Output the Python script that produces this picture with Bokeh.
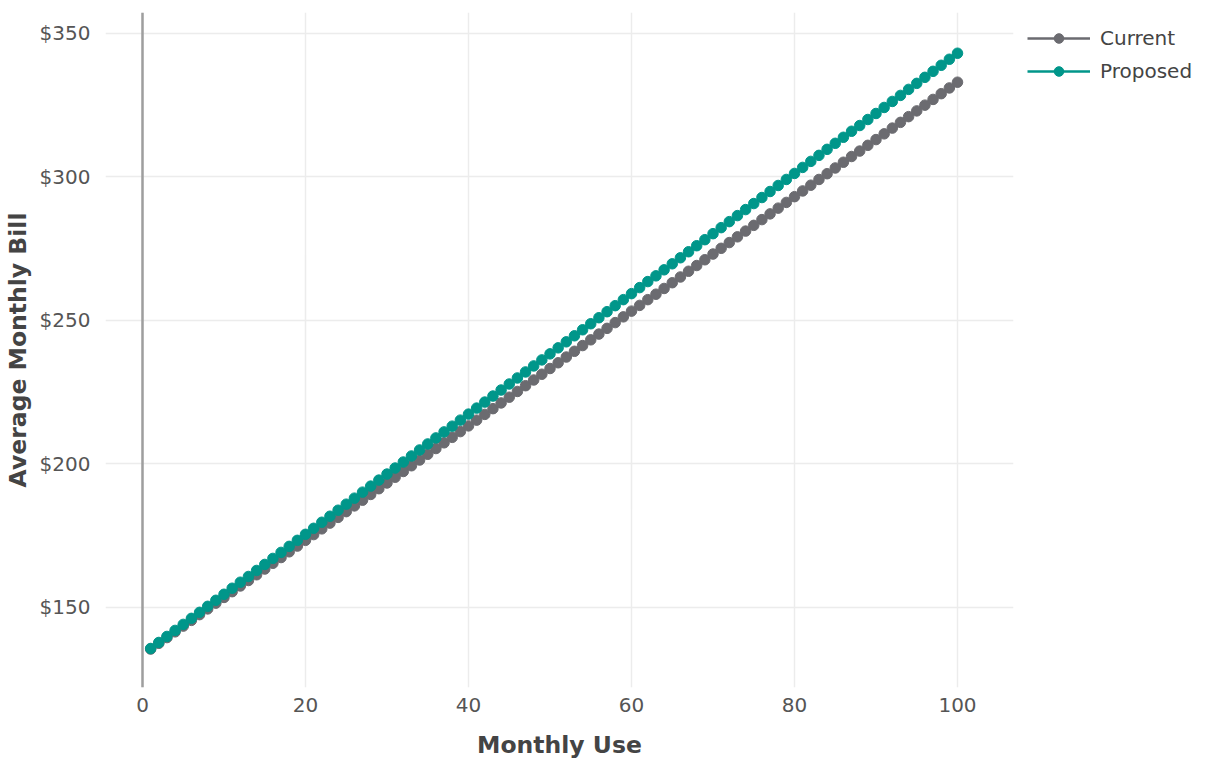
from bokeh.plotting import figure
from bokeh.models import (ColumnDataSource, Range1d, FixedTicker, PrintfTickFormatter,
                          Span, Legend, LegendItem)
from bokeh.embed import file_html
from bokeh.resources import INLINE

# ---- data ----
monthly_use = list(range(1, 101))

current = [
    135.4, 137.4, 139.4, 141.4, 143.4, 145.4, 147.4, 149.4, 151.4, 153.4,
    155.4, 157.4, 159.3, 161.3, 163.3, 165.3, 167.3, 169.3, 171.3, 173.3,
    175.3, 177.3, 179.3, 181.3, 183.3, 185.3, 187.3, 189.3, 191.3, 193.3,
    195.3, 197.3, 199.3, 201.3, 203.3, 205.3, 207.3, 209.2, 211.2, 213.2,
    215.2, 217.2, 219.2, 221.2, 223.2, 225.2, 227.2, 229.2, 231.2, 233.2,
    235.2, 237.2, 239.2, 241.2, 243.2, 245.2, 247.2, 249.2, 251.2, 253.2,
    255.2, 257.2, 259.1, 261.1, 263.1, 265.1, 267.1, 269.1, 271.1, 273.1,
    275.1, 277.1, 279.1, 281.1, 283.1, 285.1, 287.1, 289.1, 291.1, 293.1,
    295.1, 297.1, 299.1, 301.1, 303.1, 305.1, 307.1, 309.0, 311.0, 313.0,
    315.0, 317.0, 319.0, 321.0, 323.0, 325.0, 327.0, 329.0, 331.0, 333.0,
]

proposed = [
    135.6, 137.7, 139.8, 141.9, 144.0, 146.1, 148.2, 150.3, 152.4, 154.5,
    156.6, 158.7, 160.7, 162.8, 164.9, 167.0, 169.1, 171.2, 173.3, 175.4,
    177.5, 179.6, 181.7, 183.8, 185.9, 188.0, 190.1, 192.2, 194.3, 196.4,
    198.5, 200.6, 202.7, 204.8, 206.9, 209.0, 211.1, 213.1, 215.2, 217.3,
    219.4, 221.5, 223.6, 225.7, 227.8, 229.9, 232.0, 234.1, 236.2, 238.3,
    240.4, 242.5, 244.6, 246.7, 248.8, 250.9, 253.0, 255.1, 257.2, 259.3,
    261.4, 263.5, 265.5, 267.6, 269.7, 271.8, 273.9, 276.0, 278.1, 280.2,
    282.3, 284.4, 286.5, 288.6, 290.7, 292.8, 294.9, 297.0, 299.1, 301.2,
    303.3, 305.4, 307.5, 309.6, 311.7, 313.8, 315.9, 317.9, 320.0, 322.1,
    324.2, 326.3, 328.4, 330.5, 332.6, 334.7, 336.8, 338.9, 341.0, 343.1,
]

x_ticks = [0, 20, 40, 60, 80, 100]
y_ticks = [150, 200, 250, 300, 350]
series_names = ["Current", "Proposed"]
x_title = "Monthly Use"
y_title = "Average Monthly Bill"

GRAY = "#6b6b70"
TEAL = "#00968a"
FONT = "DejaVu Sans"

src = ColumnDataSource(dict(x=monthly_use, current=current, proposed=proposed))

p = figure(frame_width=908, frame_height=675, output_backend="svg", toolbar_location=None,
           x_range=Range1d(-4.54, 106.87), y_range=Range1d(122.0, 357.3),
           min_border_left=105, min_border_right=194, min_border_top=12,
           min_border_bottom=74)
p.outline_line_color = None
p.background_fill_color = "white"
p.border_fill_color = "white"

# axes
for ax in (p.xaxis[0], p.yaxis[0]):
    ax.axis_line_color = None
    ax.major_tick_line_color = None
    ax.minor_tick_line_color = None
    ax.major_label_text_font = FONT
    ax.major_label_text_font_size = "20px"
    ax.major_label_text_color = "#555555"
    ax.axis_label_text_font = FONT
    ax.axis_label_text_font_style = "bold"
    ax.axis_label_text_font_size = "23.5px"
    ax.axis_label_text_color = "#444444"

p.xaxis.ticker = FixedTicker(ticks=x_ticks)
p.yaxis.ticker = FixedTicker(ticks=y_ticks)
p.yaxis.formatter = PrintfTickFormatter(format="$%d")
p.xaxis.axis_label = x_title
p.yaxis.axis_label = y_title
p.xaxis.major_label_standoff = 4
p.yaxis.major_label_standoff = 9
p.xaxis.axis_label_standoff = 16
p.yaxis.axis_label_standoff = 5

# grid
p.xgrid.ticker = FixedTicker(ticks=x_ticks)
p.ygrid.ticker = FixedTicker(ticks=y_ticks)
for g in (p.xgrid[0], p.ygrid[0]):
    g.grid_line_color = "#ececec"
    g.grid_line_width = 1.5

# zero line
p.add_layout(Span(location=0, dimension="height", line_color="#9e9e9e", line_width=2.5))

# series
l1 = p.line("x", "current", source=src, line_color=GRAY, line_width=2.5)
s1 = p.scatter("x", "current", source=src, size=10.5, fill_color=GRAY, line_color=GRAY)
l2 = p.line("x", "proposed", source=src, line_color=TEAL, line_width=2.5)
s2 = p.scatter("x", "proposed", source=src, size=10.5, fill_color=TEAL, line_color=TEAL)

legend = Legend(items=[LegendItem(label=series_names[0], renderers=[l1, s1]),
                       LegendItem(label=series_names[1], renderers=[l2, s2])],
                location="top_left")
legend.border_line_color = None
legend.background_fill_alpha = 0
legend.padding = 0
legend.margin = 14
legend.spacing = 9
legend.glyph_width = 63
legend.glyph_height = 24
legend.label_height = 24
legend.label_standoff = 10
legend.label_text_font = FONT
legend.label_text_font_size = "20px"
legend.label_text_color = "#444444"
p.add_layout(legend, "right")

open("out.html", "w").write(file_html(p, INLINE))
